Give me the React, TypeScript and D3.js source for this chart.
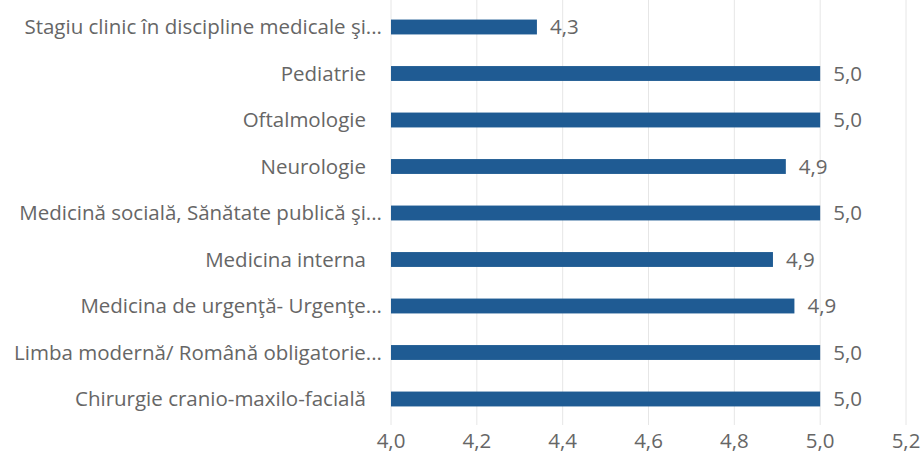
import React from "react";
import * as d3 from "d3";

const categories = [
  "Stagiu clinic în discipline medicale şi...",
  "Pediatrie   ",
  "Oftalmologie   ",
  "Neurologie   ",
  "Medicină socială, Sănătate publică şi...",
  "Medicina interna   ",
  "Medicina de urgenţă- Urgenţe...",
  "Limba modernă/ Română obligatorie...",
  "Chirurgie cranio-maxilo-facială   ",
];
const values = [4.34, 5.0, 5.0, 4.92, 5.0, 4.89, 4.94, 5.0, 5.0];
const ticks = [4.0, 4.2, 4.4, 4.6, 4.8, 5.0, 5.2];

const W = 924;
const H = 463;
const fmt = (v: number) => v.toFixed(1).replace(".", ",");

export default function App() {
  const x = d3.scaleLinear().domain([4.0, 5.2]).range([391, 906]);
  const y = d3
    .scaleBand<string>()
    .domain(categories)
    .range([3.75, 422.25])
    .paddingInner(0.68)
    .paddingOuter(0.34);
  const font = "'Open Sans', sans-serif";
  const textColor = "#666666";
  const fs = 20.5;
  return (
    <svg
      width={W}
      height={H}
      style={{ position: "absolute", left: 0, top: 0, background: "#fff" }}
    >
      {ticks.map((t) => (
        <line
          key={"g" + t}
          x1={x(t)}
          x2={x(t)}
          y1={0}
          y2={425}
          stroke="#e6e6e6"
          strokeWidth={1}
        />
      ))}
      {categories.map((c, i) => (
        <g key={c}>
          <rect
            x={x(4.0)}
            y={y(c)!}
            width={x(values[i]) - x(4.0)}
            height={y.bandwidth()}
            fill="#1f5b93"
          />
          <text
            x={382}
            y={y(c)! + y.bandwidth() / 2}
            dy="0.35em"
            textAnchor="end"
            fontFamily={font}
            fontSize={fs}
            fill={textColor}
            style={{ whiteSpace: "pre" }}
          >
            {c}
          </text>
          <text
            x={x(values[i]) + 13}
            y={y(c)! + y.bandwidth() / 2}
            dy="0.35em"
            fontFamily={font}
            fontSize={fs}
            fill={textColor}
          >
            {fmt(values[i])}
          </text>
        </g>
      ))}
      {ticks.map((t) => (
        <text
          key={"t" + t}
          x={x(t)}
          y={441}
          dy="0.35em"
          textAnchor="middle"
          fontFamily={font}
          fontSize={fs}
          fill={textColor}
        >
          {fmt(t)}
        </text>
      ))}
    </svg>
  );
}
